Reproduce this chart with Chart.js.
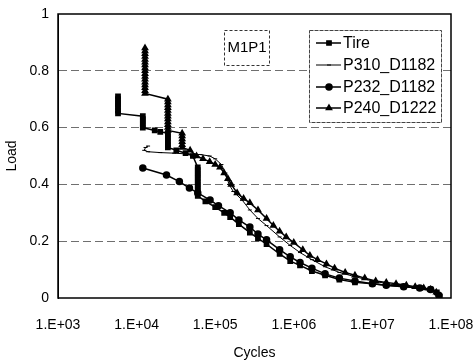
<!DOCTYPE html>
<html>
<head>
<meta charset="utf-8">
<script src="https://cdn.jsdelivr.net/npm/chart.js@4"></script>
<style>
  html, body { margin: 0; padding: 0; background: #fff; }
  #wrap { width: 473px; height: 362px; }
</style>
</head>
<body>
<div id="wrap"><canvas id="loadChart" width="473" height="362"></canvas></div>
<script>
// tick labels
var xTickValues = [1e3, 1e4, 1e5, 1e6, 1e7, 1e8];
var xTickLabels = ['1.E+03', '1.E+04', '1.E+05', '1.E+06', '1.E+07', '1.E+08'];
var yTickLabels = ['0', '0.2', '0.4', '0.6', '0.8', '1'];

var seriesNames = ['Tire', 'P310_D1182', 'P232_D1182', 'P240_D1222'];

// Tire (stepped start at ~5.8E+03)
var tireCycles = [5800, 5800, 5800, 5800, 5800, 5800, 5800,
    12000, 12000, 12000, 12000, 12000, 17000, 20000,
    25000, 25000, 25000, 25000, 25000, 25000, 32000, 42000, 52000,
    60000, 60000, 60000, 60000, 60000, 60000, 60000, 60000, 60000, 60000, 60000,
    75000, 100000, 130000, 155000, 200000, 276000, 350000, 450000, 660000, 900000,
    1200000, 1700000, 2500000, 3800000, 6000000, 10000000, 15000000, 25000000,
    40000000, 55000000, 66000000, 72000000];
var tireLoad = [0.71, 0.70, 0.69, 0.68, 0.67, 0.66, 0.65,
    0.64, 0.63, 0.62, 0.61, 0.60, 0.59, 0.585,
    0.58, 0.57, 0.56, 0.55, 0.54, 0.53, 0.52, 0.51, 0.50,
    0.46, 0.45, 0.44, 0.43, 0.42, 0.41, 0.40, 0.39, 0.38, 0.37, 0.36,
    0.34, 0.32, 0.30, 0.285, 0.26, 0.23, 0.21, 0.19, 0.155, 0.13,
    0.115, 0.095, 0.08, 0.065, 0.055, 0.05, 0.045, 0.04,
    0.035, 0.03, 0.02, 0.005];

// P310_D1182 (thin line, small marks)
var p310Cycles = [14000, 13000, 12500, 14000, 20000, 30000, 45000, 65000, 85000,
    100000, 120000, 135000, 150000, 170000, 220000, 276000, 350000, 450000, 660000,
    900000, 1200000, 1700000, 2500000, 3800000, 6000000, 10000000, 20000000,
    40000000, 70000000];
var p310Load = [0.535, 0.53, 0.52, 0.515, 0.512, 0.51, 0.507, 0.505, 0.50,
    0.49, 0.47, 0.44, 0.40, 0.375, 0.345, 0.31, 0.28, 0.255, 0.215,
    0.185, 0.16, 0.135, 0.11, 0.09, 0.075, 0.06, 0.045,
    0.035, 0.015];

// P232_D1182 (lowest start)
var p232Cycles = [12000, 24000, 35000, 47000, 60000, 86000, 110000, 155000, 200000,
    276000, 350000, 450000, 660000, 900000, 1200000, 1700000, 2500000, 3800000,
    6000000, 10000000, 15000000, 25000000, 40000000, 55000000, 70000000];
var p232Load = [0.458, 0.433, 0.41, 0.387, 0.37, 0.345, 0.325, 0.30, 0.275,
    0.25, 0.225, 0.205, 0.17, 0.145, 0.125, 0.105, 0.085, 0.07,
    0.06, 0.05, 0.045, 0.04, 0.035, 0.03, 0.01];

// P240_D1222 (stepped start at ~0.88)
var p240Cycles = [12800, 12800, 12800, 12800, 12800, 12800, 12800, 12800, 12800,
    12800, 12800, 12800, 12800, 12800, 12800, 12800, 12800,
    25000, 25000, 25000, 25000, 25000, 25000, 25000, 25000, 25000, 25000, 25000, 25000,
    38000, 38000, 38000, 38000, 38000, 38000,
    48000, 58000, 70000, 85000, 100000, 115000, 130000, 145000, 160000, 190000,
    230000, 276000, 350000, 450000, 550000, 660000, 800000, 1000000, 1300000,
    1600000, 2000000, 2600000, 3300000, 4500000, 6000000, 8000000, 11000000,
    15000000, 20000000, 27000000, 35000000, 45000000, 55000000, 65000000];
var p240Load = [0.88, 0.87, 0.86, 0.85, 0.84, 0.83, 0.82, 0.81, 0.80,
    0.79, 0.78, 0.77, 0.76, 0.75, 0.74, 0.73, 0.72,
    0.70, 0.69, 0.68, 0.67, 0.66, 0.65, 0.64, 0.63, 0.62, 0.61, 0.60, 0.59,
    0.58, 0.57, 0.56, 0.55, 0.54, 0.53,
    0.52, 0.50, 0.49, 0.48, 0.47, 0.46, 0.44, 0.42, 0.40, 0.37,
    0.35, 0.335, 0.31, 0.28, 0.255, 0.235, 0.215, 0.195, 0.17,
    0.15, 0.135, 0.12, 0.105, 0.09, 0.08, 0.07, 0.06,
    0.055, 0.05, 0.045, 0.04, 0.035, 0.03, 0.02];

function toPoints(xs, ys) {
    return xs.map(function (x, i) { return { x: x, y: ys[i] }; });
}

var FONT = '"Liberation Sans", Arial, sans-serif';

// legend box drawn inside the plot, plus the M1P1 label and the frame
var boxPlugin = {
    id: 'boxPlugin',
    afterDraw: function (chart) {
        var ctx = chart.ctx;
        var a = chart.chartArea;
        ctx.save();
        // frame
        ctx.strokeStyle = '#000';
        ctx.lineWidth = 1.5;
        ctx.strokeRect(a.left, a.top, a.right - a.left, a.bottom - a.top);

        // M1P1 label
        ctx.lineWidth = 1;
        ctx.setLineDash([3, 2]);
        ctx.strokeStyle = '#333';
        ctx.fillStyle = '#fff';
        ctx.fillRect(224, 30, 45, 35);
        ctx.strokeRect(224.5, 30.5, 45, 35);
        ctx.setLineDash([]);
        ctx.fillStyle = '#000';
        ctx.font = '15px ' + FONT;
        ctx.textAlign = 'center';
        ctx.textBaseline = 'middle';
        ctx.fillText('M1P1', 247, 48);

        // legend
        ctx.fillStyle = '#fff';
        ctx.fillRect(309, 30, 132, 92);
        ctx.strokeStyle = '#444';
        ctx.setLineDash([4, 1]);
        ctx.strokeRect(309.5, 30.5, 132, 92);
        ctx.setLineDash([]);
        var rows = [43, 65, 87, 108];
        ctx.font = '16px ' + FONT;
        ctx.textAlign = 'left';
        chart.data.datasets.forEach(function (ds, i) {
            var y = rows[i];
            ctx.strokeStyle = '#000';
            ctx.lineWidth = ds.borderWidth;
            ctx.beginPath();
            ctx.moveTo(316, y);
            ctx.lineTo(341, y);
            ctx.stroke();
            ctx.fillStyle = '#000';
            Chart.helpers.drawPoint(ctx, {
                pointStyle: ds.pointStyle,
                radius: ds.pointRadius,
                borderWidth: 1,
                rotation: 0
            }, 329, y);
            ctx.fillStyle = '#000';
            ctx.fillText(ds.label, 343, y + 1);
        });
        ctx.restore();
    }
};

var lineCanvas = document.getElementById('loadChart');
var loadChart = new Chart(lineCanvas, {
    type: 'scatter',
    data: {
        datasets: [
            {
                label: seriesNames[0],
                data: toPoints(tireCycles, tireLoad),
                showLine: true,
                borderColor: '#000',
                backgroundColor: '#000',
                borderWidth: 1.5,
                pointStyle: 'rect',
                pointRadius: 3
            },
            {
                label: seriesNames[1],
                data: toPoints(p310Cycles, p310Load),
                showLine: true,
                borderColor: '#000',
                backgroundColor: '#000',
                borderWidth: 1,
                pointStyle: 'line',
                pointRadius: 2
            },
            {
                label: seriesNames[2],
                data: toPoints(p232Cycles, p232Load),
                showLine: true,
                borderColor: '#000',
                backgroundColor: '#000',
                borderWidth: 1.5,
                pointStyle: 'circle',
                pointRadius: 3
            },
            {
                label: seriesNames[3],
                data: toPoints(p240Cycles, p240Load),
                showLine: true,
                borderColor: '#000',
                backgroundColor: '#000',
                borderWidth: 1.5,
                pointStyle: 'triangle',
                pointRadius: 3
            }
        ]
    },
    options: {
        responsive: false,
        animation: false,
        layout: { padding: { left: 0, right: 22, top: 14, bottom: 0 } },
        plugins: {
            legend: { display: false },
            tooltip: { enabled: false }
        },
        scales: {
            x: {
                type: 'logarithmic',
                min: 1e3,
                max: 1e8,
                afterBuildTicks: function (scale) {
                    scale.ticks = xTickValues.map(function (v) { return { value: v }; });
                },
                afterFit: function (scale) {
                    scale.height = 64;
                    scale.paddingLeft = 0;
                    scale.paddingRight = 0;
                },
                grid: { display: false, drawTicks: false },
                border: { display: false },
                ticks: {
                    color: '#000',
                    padding: 19,
                    maxRotation: 0,
                    autoSkip: false,
                    font: { family: FONT, size: 14 },
                    callback: function (value) {
                        var i = xTickValues.indexOf(value);
                        return i >= 0 ? xTickLabels[i] : '';
                    }
                },
                title: {
                    display: true,
                    text: 'Cycles',
                    color: '#000',
                    font: { family: FONT, size: 14 },
                    padding: { top: 2, bottom: 0 }
                }
            },
            y: {
                min: 0,
                max: 1,
                afterFit: function (scale) {
                    scale.width = 58;
                    scale.paddingTop = 0;
                    scale.paddingBottom = 0;
                },
                grid: {
                    drawTicks: false,
                    color: function (c) {
                        var v = c.tick ? c.tick.value : 0;
                        return (v > 0.01 && v < 0.99) ? '#6f6f6f' : 'rgba(0,0,0,0)';
                    },
                    lineWidth: 1
                },
                border: { display: true, color: '#000', width: 1, dash: [8, 4] },
                ticks: {
                    stepSize: 0.2,
                    color: '#000',
                    padding: 9,
                    font: { family: FONT, size: 14 },
                    callback: function (value) {
                        return yTickLabels[Math.round(value * 5)];
                    }
                },
                title: {
                    display: true,
                    text: 'Load',
                    color: '#000',
                    font: { family: FONT, size: 14 },
                    padding: { top: 4, bottom: 0 }
                }
            }
        }
    },
    plugins: [boxPlugin]
});
</script>
</body>
</html>
